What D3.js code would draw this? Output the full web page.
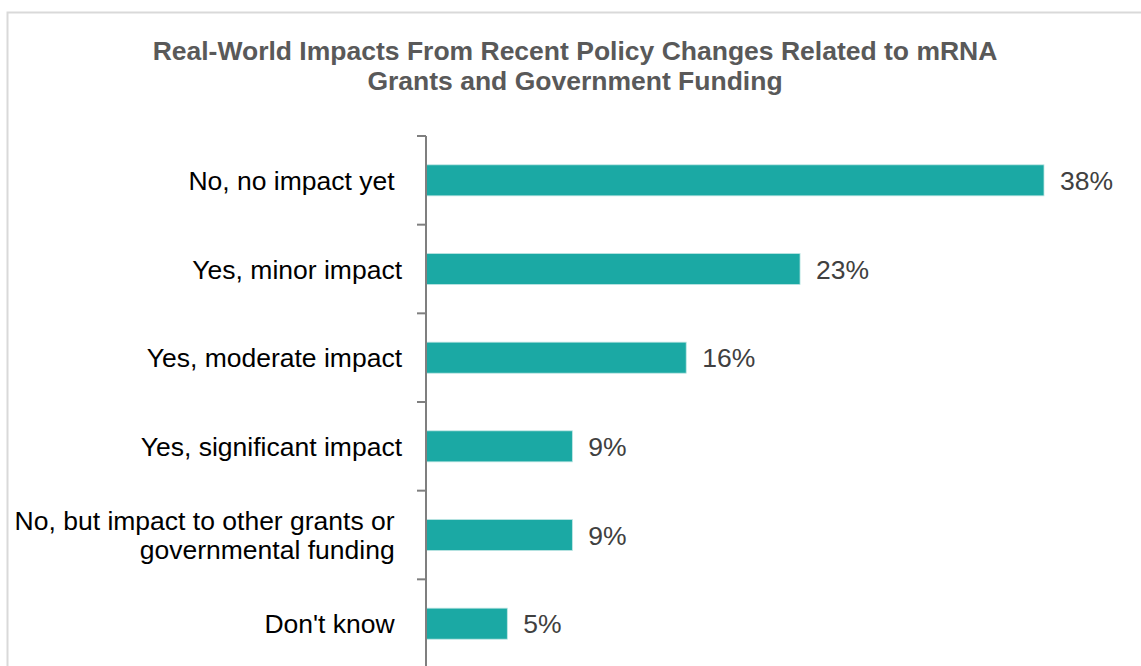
<!DOCTYPE html>
<html>
<head>
<meta charset="utf-8">
<script src="https://cdn.jsdelivr.net/npm/d3@7"></script>
<style>
  body { margin: 0; background: #fff; }
  svg { display: block; font-family: "Liberation Sans", Arial, sans-serif; }
</style>
</head>
<body>
<svg id="chart" width="1141" height="666"></svg>
<script>
// chart data
var titleLines = ["Real-World Impacts From Recent Policy Changes Related to mRNA",
                  "Grants and Government Funding"];
var categories = [
  ["No, no impact yet "],
  ["Yes, minor impact"],
  ["Yes, moderate impact"],
  ["Yes, significant impact"],
  ["No, but impact to other grants or ", "governmental funding "],
  ["Don't know "]
];
var values = [38, 23, 16, 9, 9, 5];

var barColor = "#1ba9a4";
var fontSize = 26.5;

var svg = d3.select("#chart");

// outer frame (runs off the right and bottom edge)
svg.append("rect")
  .attr("x", 7.5).attr("y", 12.5)
  .attr("width", 1200).attr("height", 700)
  .attr("fill", "none")
  .attr("stroke", "#d9d9d9")
  .attr("stroke-width", 2);

// title
svg.append("g").selectAll("text").data(titleLines).enter().append("text")
  .attr("x", 575)
  .attr("y", function(d, i){ return 60 + i * 30; })
  .attr("text-anchor", "middle")
  .attr("font-weight", "bold")
  .attr("font-size", fontSize)
  .attr("fill", "#595959")
  .text(function(d){ return d; });

var idx = d3.range(values.length);

var x = d3.scaleLinear().domain([0, 38]).range([426, 1044]);
var y = d3.scaleBand().domain(idx).range([136, 668])
  .paddingInner(0.65).paddingOuter(0.325);

// bars
svg.append("g").selectAll("rect").data(idx).enter().append("rect")
  .attr("x", x(0))
  .attr("y", function(i){ return y(i); })
  .attr("width", function(i){ return x(values[i]) - x(0); })
  .attr("height", y.bandwidth())
  .attr("fill", barColor)
  .attr("stroke", "#bfe6e4")
  .attr("stroke-width", 0.8);

// value labels
svg.append("g").selectAll("text").data(idx).enter().append("text")
  .attr("x", function(i){ return x(values[i]) + 16; })
  .attr("y", function(i){ return y(i) + y.bandwidth() / 2 + 9.5; })
  .attr("font-size", fontSize)
  .attr("fill", "#404040")
  .text(function(i){ return values[i] + "%"; });

// category axis: line plus ticks at the band boundaries
var axis = svg.append("g");
var r = y.range();
axis.append("line")
  .attr("x1", x(0)).attr("x2", x(0))
  .attr("y1", r[0]).attr("y2", r[1] + 10)
  .attr("stroke", "#7f7f7f").attr("stroke-width", 2);

var bounds = d3.range(values.length + 1).map(function(i){ return r[0] + i * y.step(); });
axis.selectAll(".tick").data(bounds).enter().append("line")
  .attr("class", "tick")
  .attr("x1", x(0) - 9).attr("x2", x(0))
  .attr("y1", function(d){ return d; }).attr("y2", function(d){ return d; })
  .attr("stroke", "#7f7f7f").attr("stroke-width", 2);

// category labels
var lab = svg.append("g").selectAll("text").data(idx).enter().append("text")
  .attr("text-anchor", "end")
  .attr("font-size", fontSize)
  .attr("fill", "#000")
  .style("white-space", "pre")
  .attr("y", function(i){
    var c = y(i) + y.bandwidth() / 2;
    var n = categories[i].length;
    return c - (n - 1) * 14.5 + 9.5;
  });

lab.selectAll("tspan").data(function(i){ return categories[i]; }).enter().append("tspan")
  .attr("x", 402)
  .attr("dy", function(d, j){ return j == 0 ? 0 : 29; })
  .text(function(d){ return d; });
</script>
</body>
</html>
